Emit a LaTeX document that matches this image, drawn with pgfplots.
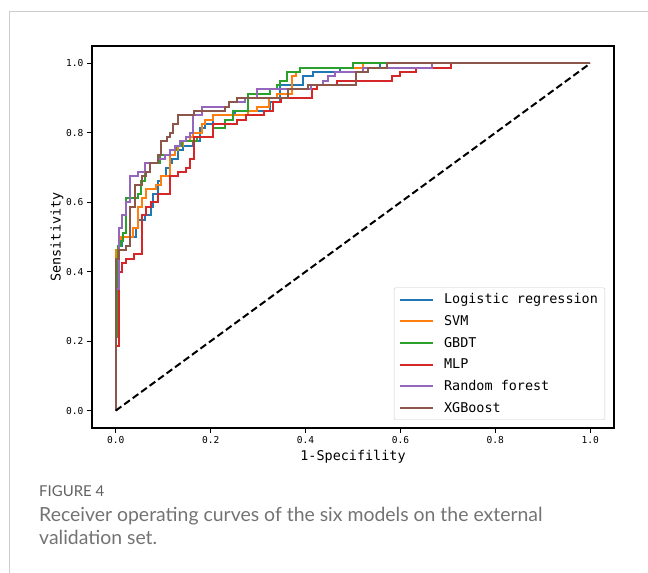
\documentclass[border=0pt]{standalone}
\usepackage{pgfplots}
\pgfplotsset{compat=1.18}
\usepackage{fontspec}
\setmainfont{DejaVu Sans Mono}
\newfontfamily\capfont{Lato}
\definecolor{cLR}{HTML}{1F77B4}
\definecolor{cSVM}{HTML}{FF7F0E}
\definecolor{cGB}{HTML}{2CA02C}
\definecolor{cMLP}{HTML}{D62728}
\definecolor{cRF}{HTML}{9467BD}
\definecolor{cXG}{HTML}{8C564B}
\begin{document}
\begin{tikzpicture}
\useasboundingbox (0,0) rectangle (648bp,573bp);
\draw[color=black!20, line width=1bp] (9bp,0) -- (9bp,561bp) -- (648bp,561bp);
\begin{axis}[
  at={(92bp,145bp)}, anchor=south west, scale only axis,
  width=522bp, height=382bp,
  xmin=-0.05, xmax=1.05, ymin=-0.05, ymax=1.05,
  xtick={0,0.2,0.4,0.6,0.8,1}, xticklabels={0.0,0.2,0.4,0.6,0.8,1.0},
  ytick={0,0.2,0.4,0.6,0.8,1}, yticklabels={0.0,0.2,0.4,0.6,0.8,1.0},
  tick label style={font=\fontsize{9.6}{11}\selectfont},
  tick align=outside, tick pos=left, major tick length=5bp,
  major tick style={line width=1bp, black},
  axis line style={line width=1.1bp, black},
  xlabel={1-Specifility}, ylabel={Sensitivity},
  every axis x label/.style={at={(axis description cs:0.5,-0.076)}, anchor=center, font=\fontsize{13.5}{16}\selectfont},
  every axis y label/.style={at={(axis description cs:-0.067,0.5)}, anchor=center, rotate=90, font=\fontsize{13.5}{16}\selectfont},
  legend style={font=\fontsize{13.5}{16}\selectfont, draw=black!20, rounded corners=2bp,
    at={(0.983,0.021)}, anchor=south east, row sep=6.2bp, inner xsep=5bp, inner ysep=4bp,
    /tikz/every odd column/.append style={column sep=8bp}},
  legend cell align=left,
  legend image code/.code={\draw[#1] (0bp,0bp) -- (33bp,0bp);},
  every axis plot/.append style={line width=2bp, line join=miter},
]
\addplot[cLR, line width=2bp] coordinates {(0,0)(0,0.45)(0.0063,0.45)(0.0063,0.475)(0.0137,0.475)(0.0137,0.5)(0.0437,0.5)(0.0437,0.525)(0.047,0.525)(0.047,0.55)(0.0612,0.55)(0.0612,0.5625)(0.0738,0.5625)(0.0738,0.5875)(0.0787,0.5875)(0.0787,0.625)(0.0892,0.625)(0.0892,0.6625)(0.0964,0.6625)(0.0964,0.675)(0.1055,0.675)(0.1055,0.7)(0.1139,0.7)(0.1139,0.7125)(0.1196,0.7125)(0.1196,0.725)(0.1314,0.725)(0.1314,0.75)(0.142,0.75)(0.142,0.7625)(0.1631,0.7625)(0.1631,0.775)(0.1772,0.775)(0.1772,0.8125)(0.1878,0.8125)(0.1878,0.825)(0.2053,0.825)(0.2053,0.85)(0.251,0.85)(0.251,0.8625)(0.3249,0.8625)(0.3249,0.8875)(0.346,0.8875)(0.346,0.9375)(0.3951,0.9375)(0.3951,0.9625)(0.4162,0.9625)(0.4162,0.975)(0.4726,0.975)(0.4726,0.9875)(0.557,0.9875)(0.557,1)(1,1)};
\addlegendentry{Logistic regression}
\addplot[cSVM, line width=2bp] coordinates {(0,0)(0,0.4625)(0.0042,0.4625)(0.0042,0.475)(0.012,0.475)(0.012,0.5)(0.0365,0.5)(0.0365,0.525)(0.047,0.525)(0.047,0.5875)(0.0563,0.5875)(0.0563,0.6125)(0.0633,0.6125)(0.0633,0.6375)(0.0859,0.6375)(0.0859,0.65)(0.0964,0.65)(0.0964,0.675)(0.1139,0.675)(0.1139,0.7375)(0.1245,0.7375)(0.1245,0.75)(0.1314,0.75)(0.1314,0.7625)(0.142,0.7625)(0.142,0.775)(0.1561,0.775)(0.1561,0.7875)(0.1631,0.7875)(0.1631,0.8)(0.1808,0.8)(0.1808,0.825)(0.1878,0.825)(0.1878,0.8375)(0.2053,0.8375)(0.2053,0.85)(0.2791,0.85)(0.2791,0.8625)(0.2968,0.8625)(0.2968,0.875)(0.3234,0.875)(0.3234,0.9)(0.339,0.9)(0.339,0.9125)(0.3707,0.9125)(0.3707,0.9625)(0.3797,0.9625)(0.3797,0.975)(0.3882,0.975)(0.3882,0.9875)(0.5217,0.9875)(0.5217,1)(1,1)};
\addlegendentry{SVM}
\addplot[cGB, line width=2bp] coordinates {(0,0)(0,0.2125)(0.0053,0.2125)(0.0053,0.475)(0.0105,0.475)(0.0105,0.4875)(0.0148,0.4875)(0.0148,0.5125)(0.022,0.5125)(0.022,0.6125)(0.047,0.6125)(0.047,0.625)(0.0534,0.625)(0.0534,0.6625)(0.0612,0.6625)(0.0612,0.6875)(0.0717,0.6875)(0.0717,0.7125)(0.0928,0.7125)(0.0928,0.7375)(0.1139,0.7375)(0.1139,0.75)(0.128,0.75)(0.128,0.7625)(0.1386,0.7625)(0.1386,0.775)(0.1703,0.775)(0.1703,0.7875)(0.2053,0.7875)(0.2053,0.8125)(0.23,0.8125)(0.23,0.8375)(0.2475,0.8375)(0.2475,0.8625)(0.2791,0.8625)(0.2791,0.9125)(0.3249,0.9125)(0.3249,0.925)(0.339,0.925)(0.339,0.9375)(0.346,0.9375)(0.346,0.95)(0.3614,0.95)(0.3614,0.975)(0.3882,0.975)(0.3882,0.9875)(0.4994,0.9875)(0.4994,1)(1,1)};
\addlegendentry{GBDT}
\addplot[cMLP, line width=2bp] coordinates {(0,0)(0,0.1875)(0.0074,0.1875)(0.0074,0.4)(0.0127,0.4)(0.0127,0.425)(0.022,0.425)(0.022,0.4375)(0.0395,0.4375)(0.0395,0.45)(0.0555,0.45)(0.0555,0.5625)(0.0648,0.5625)(0.0648,0.5875)(0.0738,0.5875)(0.0738,0.6)(0.0892,0.6)(0.0892,0.625)(0.1139,0.625)(0.1139,0.675)(0.1314,0.675)(0.1314,0.6875)(0.1477,0.6875)(0.1477,0.7)(0.1561,0.7)(0.1561,0.725)(0.1646,0.725)(0.1646,0.7875)(0.2046,0.7875)(0.2046,0.825)(0.2553,0.825)(0.2553,0.8375)(0.2743,0.8375)(0.2743,0.85)(0.3122,0.85)(0.3122,0.8625)(0.3312,0.8625)(0.3312,0.8875)(0.348,0.8875)(0.348,0.9)(0.4146,0.9)(0.4146,0.925)(0.4234,0.925)(0.4234,0.9375)(0.4656,0.9375)(0.4656,0.95)(0.5816,0.95)(0.5816,0.9625)(0.5992,0.9625)(0.5992,0.975)(0.6329,0.975)(0.6329,0.9875)(0.7068,0.9875)(0.7068,1)(1,1)};
\addlegendentry{MLP}
\addplot[cRF, line width=2bp] coordinates {(0,0)(0,0.35)(0.0063,0.35)(0.0063,0.525)(0.0137,0.525)(0.0137,0.5625)(0.022,0.5625)(0.022,0.6)(0.0306,0.6)(0.0306,0.675)(0.047,0.675)(0.047,0.6875)(0.0612,0.6875)(0.0612,0.7125)(0.0892,0.7125)(0.0892,0.725)(0.1034,0.725)(0.1034,0.7375)(0.1139,0.7375)(0.1139,0.75)(0.1245,0.75)(0.1245,0.7625)(0.135,0.7625)(0.135,0.775)(0.1477,0.775)(0.1477,0.7875)(0.1561,0.7875)(0.1561,0.8)(0.1631,0.8)(0.1631,0.85)(0.1808,0.85)(0.1808,0.875)(0.239,0.875)(0.239,0.8875)(0.2722,0.8875)(0.2722,0.9)(0.2968,0.9)(0.2968,0.925)(0.4114,0.925)(0.4114,0.9375)(0.4367,0.9375)(0.4367,0.95)(0.4473,0.95)(0.4473,0.9625)(0.462,0.9625)(0.462,0.975)(0.5211,0.975)(0.5211,0.9875)(0.666,0.9875)(0.666,1)(1,1)};
\addlegendentry{Random forest}
\addplot[cXG, line width=2bp] coordinates {(0,0)(0,0.4375)(0.007,0.4375)(0.007,0.4625)(0.022,0.4625)(0.022,0.475)(0.0295,0.475)(0.0295,0.5875)(0.04,0.5875)(0.04,0.65)(0.0563,0.65)(0.0563,0.675)(0.0648,0.675)(0.0648,0.6875)(0.0732,0.6875)(0.0732,0.7125)(0.0892,0.7125)(0.0892,0.7375)(0.0964,0.7375)(0.0964,0.775)(0.107,0.775)(0.107,0.7875)(0.1139,0.7875)(0.1139,0.8)(0.1209,0.8)(0.1209,0.825)(0.1302,0.825)(0.1302,0.85)(0.1646,0.85)(0.1646,0.8625)(0.23,0.8625)(0.23,0.875)(0.239,0.875)(0.239,0.8875)(0.2546,0.8875)(0.2546,0.9)(0.3635,0.9)(0.3635,0.925)(0.4051,0.925)(0.4051,0.9375)(0.5063,0.9375)(0.5063,0.975)(0.5323,0.975)(0.5323,0.9875)(0.5724,0.9875)(0.5724,1)(1,1)};
\addlegendentry{XGBoost}
\addplot[black, line width=2bp, dash pattern=on 7bp off 3.5bp, forget plot] coordinates {(0,0)(1,1)};
\end{axis}
\node[anchor=base west, font=\capfont\fontsize{15}{17}\selectfont, color=black!62, inner sep=0] at (39bp,76bp) {FIGURE 4};
\node[anchor=base west, font=\capfont\fontsize{19.5}{22}\selectfont, color=black!55, inner sep=0] at (39bp,51bp) {Receiver operating curves of the six models on the external};
\node[anchor=base west, font=\capfont\fontsize{19.5}{22}\selectfont, color=black!55, inner sep=0] at (39bp,28.5bp) {validation set.};
\end{tikzpicture}
\end{document}
